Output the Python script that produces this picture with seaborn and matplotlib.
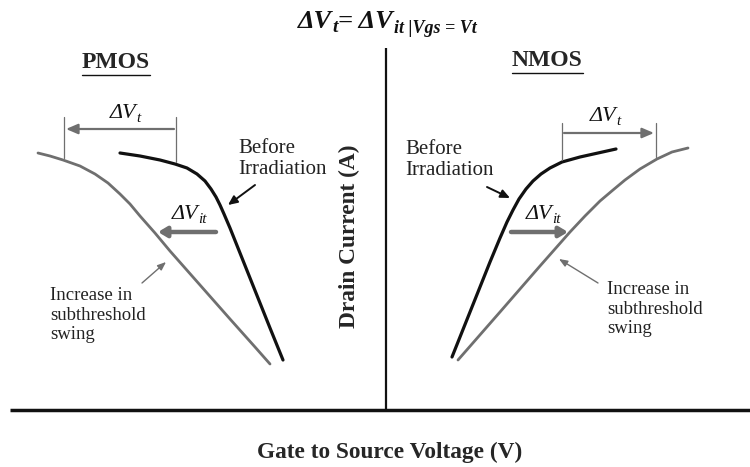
import matplotlib
matplotlib.use("Agg")
import matplotlib.pyplot as plt
import seaborn as sns
import pandas as pd

# Schematic I-V curves, in drawing units (x: gate voltage axis, y: current axis, y grows downward)
pmos_before_x = [120, 140, 160, 175, 187, 197, 205, 211, 216, 220, 224, 230, 250, 270, 283]
pmos_before_y = [153, 156, 160, 164, 168, 174, 181, 189, 197, 205, 214, 228, 278, 328, 360]
pmos_after_x = [38, 50, 63, 80, 95, 108, 120, 130, 140, 155, 170, 200, 230, 255, 270]
pmos_after_y = [153, 156, 160, 166, 174, 183, 194, 204, 216, 233, 251, 285, 319, 347, 364]
nmos_before_x = [452, 470, 490, 500, 507, 513, 519, 526, 533, 541, 550, 562, 580, 598, 616]
nmos_before_y = [357, 312, 262, 238, 222, 210, 199, 189, 181, 174, 168, 162, 157, 153, 149]
nmos_after_x = [458, 500, 540, 570, 585, 600, 613, 625, 640, 657, 672, 688]
nmos_after_y = [360, 312, 266, 232, 216, 201, 190, 180, 169, 159, 152, 148]

xlabel_text = "Gate to Source Voltage (V)"
ylabel_text = "Drain Current (A)"
panel_labels = ["PMOS", "NMOS"]
before_label = "Before\nIrradiation"
swing_label = "Increase in\nsubthreshold\nswing"

sns.set_style("white")
plt.rcParams["font.family"] = ["Liberation Serif", "DejaVu Serif"]

BLACK = "#111111"
GRAY = "#6f6f6f"
TEXT = "#222222"

fig = plt.figure(figsize=(7.5, 4.67), dpi=100)
ax = fig.add_axes([0, 0, 1, 1])
ax.set_xlim(0, 750)
ax.set_ylim(467, 0)
ax.axis("off")

curves = [
    (pmos_before_x, pmos_before_y, BLACK, 2.3),
    (pmos_after_x, pmos_after_y, GRAY, 2.0),
    (nmos_before_x, nmos_before_y, BLACK, 2.3),
    (nmos_after_x, nmos_after_y, GRAY, 2.0),
]
for xs, ys, col, lw in curves:
    df = pd.DataFrame({"x": xs, "y": ys})
    sns.lineplot(data=df, x="x", y="y", sort=False, estimator=None,
                 color=col, lw=lw, ax=ax)
ax.set_xlabel("")
ax.set_ylabel("")

# Axes of the sketch
ax.plot([10, 750], [410, 410], color=BLACK, lw=2.5, solid_capstyle="butt")
ax.plot([386, 386], [48, 410], color=BLACK, lw=1.6, solid_capstyle="butt")

renderer = fig.canvas.get_renderer()


def run_of_text(x, y, pieces, weight="normal", align="center", gap=0.0):
    """Draw italic text pieces side by side; each piece is (text, size, drop)."""
    items = []
    cursor = 0.0
    for txt, fs, dy in pieces:
        t = ax.text(0, y + dy, txt, ha="left", va="baseline", fontsize=fs,
                    style="italic", fontweight=weight, color=BLACK)
        w = t.get_window_extent(renderer=renderer).width
        items.append((t, cursor))
        cursor += w + gap
    start = x - cursor / 2 if align == "center" else x
    for t, off in items:
        t.set_x(start + off)


# Title equation
run_of_text(298, 28, [("ΔV", 19, 0), ("t", 14, 4), ("= ΔV", 19, 0),
                      ("it |Vgs = Vt", 13, 5)],
            weight="bold", align="left", gap=0.5)

ax.text(390, 452, xlabel_text, ha="center", va="center", fontsize=16.8,
        fontweight="bold")
ax.text(349, 236, ylabel_text, ha="center", va="center", fontsize=16.8,
        fontweight="bold", rotation=90)

# Panel headers (underlined)
for cx, cy, lab, x0, x1, uy in [(116, 63, panel_labels[0], 82, 150, 75),
                                (547, 61, panel_labels[1], 512, 583, 73)]:
    ax.text(cx, cy, lab, ha="center", va="center", fontsize=17, fontweight="bold")
    ax.plot([x0, x1], [uy, uy], color=BLACK, lw=1.0)


def arrow(x0, y0, x1, y1, col, lw, hw, hl):
    ax.annotate("", xy=(x1, y1), xytext=(x0, y0),
                arrowprops=dict(arrowstyle=f"-|>,head_width={hw},head_length={hl}",
                                color=col, lw=lw, shrinkA=0, shrinkB=0))


dvt = [("ΔV", 16, 0), ("t", 11, 4)]
dvit = [("ΔV", 16, 0), ("it", 11, 4)]

# PMOS threshold shift
ax.plot([64, 64], [117, 158], color=GRAY, lw=0.9)
ax.plot([176, 176], [117, 162], color=GRAY, lw=0.9)
arrow(174, 129, 66, 129, GRAY, 1.6, 0.3, 0.7)
run_of_text(125, 118, dvt)
arrow(216, 232, 158, 232, GRAY, 3.2, 0.3, 0.5)
run_of_text(189, 219, dvit)
ax.text(238, 159, before_label, ha="left", va="center", fontsize=15,
        linespacing=1.15, color=TEXT)
arrow(255, 185, 228, 205, BLACK, 1.4, 0.25, 0.55)
ax.text(50, 315, swing_label, ha="left", va="center", fontsize=13.5,
        linespacing=1.2, color=TEXT)
arrow(142, 283, 166, 262, GRAY, 1.0, 0.2, 0.5)

# NMOS threshold shift
ax.plot([562, 562], [123, 160], color=GRAY, lw=0.9)
ax.plot([656, 656], [123, 157], color=GRAY, lw=0.9)
arrow(564, 133, 654, 133, GRAY, 1.6, 0.3, 0.7)
run_of_text(605, 121, dvt)
arrow(511, 232, 568, 232, GRAY, 3.2, 0.3, 0.5)
run_of_text(543, 219, dvit)
ax.text(405, 160, before_label, ha="left", va="center", fontsize=15,
        linespacing=1.15, color=TEXT)
arrow(487, 187, 510, 198, BLACK, 1.4, 0.25, 0.55)
ax.text(607, 309, swing_label, ha="left", va="center", fontsize=13.5,
        linespacing=1.2, color=TEXT)
arrow(598, 283, 559, 259, GRAY, 1.0, 0.2, 0.5)

fig.savefig("out.png", dpi=100, facecolor="white")
